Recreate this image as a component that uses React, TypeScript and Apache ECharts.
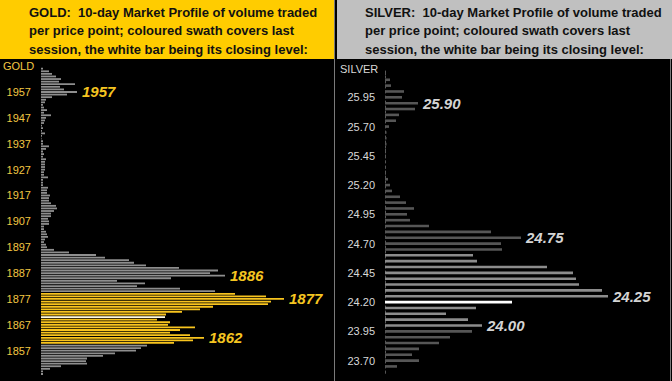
import React, { useEffect, useRef } from "react";
import * as echarts from "echarts";

// ---------- data (top of chart to bottom) ----------
const goldPrices = [
  1966, 1965, 1964, 1963, 1962, 1961, 1960, 1959, 1958, 1957,
  1956, 1955, 1954, 1953, 1952, 1951, 1950, 1949, 1948, 1947,
  1946, 1945, 1944, 1943, 1942, 1941, 1940, 1939, 1938, 1937,
  1936, 1935, 1934, 1933, 1932, 1931, 1930, 1929, 1928, 1927,
  1926, 1925, 1924, 1923, 1922, 1921, 1920, 1919, 1918, 1917,
  1916, 1915, 1914, 1913, 1912, 1911, 1910, 1909, 1908, 1907,
  1906, 1905, 1904, 1903, 1902, 1901, 1900, 1899, 1898, 1897,
  1896, 1895, 1894, 1893, 1892, 1891, 1890, 1889, 1888, 1887,
  1886, 1885, 1884, 1883, 1882, 1881, 1880,
  1879, 1878, 1877, 1876, 1875, 1874, 1873, 1872, 1871, 1870,
  1869, 1868, 1867, 1866, 1865, 1864, 1863, 1862, 1861, 1860,
  1859, 1858, 1857, 1856, 1855, 1854, 1853, 1852, 1851, 1850, 1849, 1848,
];
const goldVolume = [
  2, 8, 11, 15, 20, 18, 34, 19, 23, 36,
  26, 11, 5, 4, 2, 3, 6, 3, 10, 5,
  4, 3, 1, 2, 1, 4, 1, 0.5, 2, 2,
  8, 5, 2, 3, 2, 5, 4, 4, 4, 4,
  3, 3, 7, 2, 2, 2, 7, 6, 6, 9,
  8, 8, 10, 15, 16, 13, 10, 10, 7, 8,
  8, 3, 3, 5, 6, 7, 4, 3, 5, 6,
  13, 28, 55, 64, 88, 93, 105, 138, 177, 169,
  184, 130, 76, 104, 96, 139, 174,
  194, 225, 243, 230, 227, 172, 159, 141, 125, 124,
  116, 129, 127, 154, 139, 129, 149, 163, 152, 133,
  106, 100, 95, 74, 62, 46, 45, 46, 20, 9, 2, 2,
];
const goldSessionHigh = 1879;
const goldSessionLow = 1860;
const goldClose = 1870;
const goldNotes = [1957, 1886, 1877, 1862];
const goldTicks = [1957, 1947, 1937, 1927, 1917, 1907, 1897, 1887, 1877, 1867, 1857];

const silverPrices = [
  "26.15", "26.10", "26.05", "26.00", "25.95", "25.90", "25.85", "25.80", "25.75", "25.70",
  "25.65", "25.60", "25.55", "25.50", "25.45", "25.40", "25.35", "25.30", "25.25", "25.20",
  "25.15", "25.10", "25.05", "25.00", "24.95", "24.90", "24.85", "24.80", "24.75", "24.70",
  "24.65", "24.60", "24.55", "24.50", "24.45", "24.40", "24.35", "24.30", "24.25", "24.20",
  "24.15", "24.10", "24.05", "24.00", "23.95", "23.90", "23.85", "23.80", "23.75", "23.70",
  "23.65", "23.60",
];
const silverVolume = [
  1, 5, 6, 19, 17, 33, 30, 14, 11, 4,
  1.5, 1.5, 1.5, 1, 1, 1, 1, 1, 3, 5,
  7, 15, 21, 29, 22, 25, 44, 106, 136, 116,
  117, 88, 92, 162, 188, 191, 194, 217, 223, 127,
  91, 61, 83, 97, 87, 65, 54, 34, 27, 34,
  12, 1,
];
const silverSessionHigh = 24.6;
const silverSessionLow = 24.0;
const silverClose = "24.20";
const silverNotes = ["25.90", "24.75", "24.25", "24.00"];
const silverTicks = ["25.95", "25.70", "25.45", "25.20", "24.95", "24.70", "24.45", "24.20", "23.95", "23.70"];

const FONT = '"Liberation Sans", Arial, sans-serif';
const GOLD_TXT = "#f3c743";
const GOLD_BAR = "#f8c41e";
const GOLD_NOTE = "#f5c520";
const SILVER_TXT = "#d8d8d8";
const SILVER_NOTE = "#d4d4d4";

function noteLabel(text: string, color: string) {
  return {
    show: true,
    position: "right",
    distance: 5,
    formatter: text,
    color,
    fontSize: 15,
    fontWeight: "bold",
    fontStyle: "italic",
    fontFamily: FONT,
  };
}

export default function App() {
  const ref = useRef<HTMLDivElement>(null);

  useEffect(() => {
    if (!ref.current) return;
    const chart = echarts.init(ref.current, undefined, { renderer: "svg" });

    const goldCats = goldPrices.map((p) => String(p));
    const goldData = goldPrices.map((p, i) => {
      let color = "#8e8e8e";
      if (p === goldClose) color = "#fffbe4";
      else if (p >= goldSessionLow && p <= goldSessionHigh) color = GOLD_BAR;
      const item: any = { value: goldVolume[i], itemStyle: { color } };
      if (goldNotes.includes(p)) item.label = noteLabel(String(p), GOLD_NOTE);
      return item;
    });

    const silverData = silverPrices.map((p, i) => {
      const v = parseFloat(p);
      let color = "#565656";
      if (p === silverClose) color = "#ffffff";
      else if (v >= silverSessionLow - 1e-9 && v <= silverSessionHigh + 1e-9) color = "#8c8c8c";
      const item: any = { value: silverVolume[i], itemStyle: { color } };
      if (silverNotes.includes(p)) item.label = noteLabel(p, SILVER_NOTE);
      return item;
    });

    const headerLines = (metal: string) =>
      metal +
      ":  10-day Market Profile of volume traded\nper price point; coloured swath covers last\nsession, the white bar being its closing level:";

    chart.setOption({
      animation: false,
      backgroundColor: "#000",
      graphic: [
        { type: "rect", shape: { x: 0, y: 0, width: 334, height: 59 }, style: { fill: "#ffcc00" }, z: 0 },
        { type: "rect", shape: { x: 337, y: 0, width: 335, height: 59 }, style: { fill: "#c0c0c0" }, z: 0 },
        { type: "line", shape: { x1: 334.5, y1: 0, x2: 334.5, y2: 381 }, style: { stroke: "#7a7a7a", lineWidth: 1 }, z: 0 },
        { type: "line", shape: { x1: 670.5, y1: 59, x2: 670.5, y2: 381 }, style: { stroke: "#7a7a7a", lineWidth: 1 }, z: 0 },
        {
          type: "text",
          x: 29,
          y: 3.5,
          style: {
            text: headerLines("GOLD"),
            fill: "#111",
            fontSize: 13,
            fontWeight: "bold",
            fontFamily: FONT,
            lineHeight: 18.3,
          },
          z: 1,
        },
        {
          type: "text",
          x: 365,
          y: 3.5,
          style: {
            text: headerLines("SILVER"),
            fill: "#111",
            fontSize: 13,
            fontWeight: "bold",
            fontFamily: FONT,
            lineHeight: 18.3,
          },
          z: 1,
        },
        {
          type: "text",
          x: 3,
          y: 66,
          style: { text: "GOLD", fill: GOLD_TXT, fontSize: 11, fontFamily: FONT, verticalAlign: "middle" },
          z: 1,
        },
        {
          type: "text",
          x: 340,
          y: 69,
          style: { text: "SILVER", fill: SILVER_TXT, fontSize: 11, fontFamily: FONT, verticalAlign: "middle" },
          z: 1,
        },
      ],
      grid: [
        { left: 41, top: 67.4, width: 290, height: 307.9 },
        { left: 385, top: 71, width: 284, height: 304.2 },
      ],
      xAxis: [
        { gridIndex: 0, type: "value", min: 0, max: 290, show: false },
        { gridIndex: 1, type: "value", min: 0, max: 284, show: false },
      ],
      yAxis: [
        {
          gridIndex: 0,
          type: "category",
          inverse: true,
          data: goldCats,
          axisLine: { show: false },
          axisTick: { show: false },
          splitLine: { show: false },
          axisLabel: {
            interval: (_i: number, val: string) => goldTicks.includes(Number(val)),
            color: GOLD_TXT,
            fontSize: 11,
            fontFamily: FONT,
            margin: 10,
          },
        },
        {
          gridIndex: 1,
          type: "category",
          inverse: true,
          data: silverPrices,
          axisLine: { show: true, lineStyle: { color: "#5a5a5a", type: [2, 3], width: 1 } },
          axisTick: { show: false },
          splitLine: { show: false },
          axisLabel: {
            interval: (_i: number, val: string) => silverTicks.includes(val),
            color: SILVER_TXT,
            fontSize: 11,
            fontFamily: FONT,
            margin: 10,
          },
        },
      ],
      series: [
        {
          type: "bar",
          xAxisIndex: 0,
          yAxisIndex: 0,
          data: goldData,
          barWidth: 1.8,
        },
        {
          type: "bar",
          xAxisIndex: 1,
          yAxisIndex: 1,
          data: silverData,
          barWidth: 2.6,
        },
      ],
    });

    return () => chart.dispose();
  }, []);

  return (
    <div
      ref={ref}
      style={{ position: "fixed", left: 0, top: 0, width: 672, height: 381 }}
    />
  );
}
